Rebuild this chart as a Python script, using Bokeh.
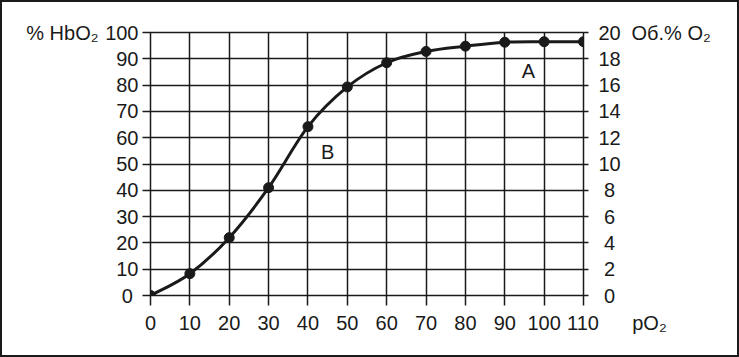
import numpy as np
from bokeh.plotting import figure
from bokeh.models import LinearAxis, Range1d, FixedTicker, Label
from bokeh.embed import file_html
from bokeh.resources import INLINE

# ---- data ----
po2 = [0, 10, 20, 30, 40, 50, 60, 70, 80, 90, 100, 110]
hbo2 = [0, 8.3, 22.0, 41.0, 64.2, 79.3, 88.5, 92.8, 94.8, 96.3, 96.5, 96.5]

x_ticks = [0, 10, 20, 30, 40, 50, 60, 70, 80, 90, 100, 110]
y_left_ticks = [0, 10, 20, 30, 40, 50, 60, 70, 80, 90, 100]
y_right_ticks = [0, 2, 4, 6, 8, 10, 12, 14, 16, 18, 20]
grid_x = [10, 20, 30, 40, 50, 60, 70, 80, 90, 100]
grid_y = [10, 20, 30, 40, 50, 60, 70, 80, 90]

left_title = "% HbO\u2082"
right_title = "Об.% O\u2082"
bottom_title = "pO\u2082"

INK = "#1a1a1a"
FONT = "Liberation Sans"
NB = "\u00a0"

p = figure(width=739, height=357, output_backend="svg", toolbar_location=None,
           x_range=Range1d(0, 110), y_range=Range1d(0, 100),
           min_border_left=148, min_border_right=158, min_border_top=30, min_border_bottom=64,
           x_axis_location=None, y_axis_location=None)
p.styles = {"border": "2px solid #1a1a1a", "box-sizing": "border-box"}
p.outline_line_color = INK
p.outline_line_width = 1.5
p.background_fill_color = "white"
p.border_fill_color = "white"

p.extra_y_ranges = {"vol": Range1d(0, 20), "ttl": Range1d(0, 100)}

def style_axis(ax, tick_out, standoff):
    ax.axis_line_color = None
    ax.major_tick_line_color = INK if tick_out else None
    ax.major_tick_line_width = 1.5
    ax.major_tick_out = tick_out
    ax.major_tick_in = 0
    ax.minor_tick_line_color = None
    ax.major_label_text_font = FONT
    ax.major_label_text_font_size = "20px"
    ax.major_label_text_color = INK
    ax.major_label_standoff = standoff

# bottom axis: pO2 ticks; the axis title sits on the row of the last tick label
xb = LinearAxis(ticker=FixedTicker(ticks=x_ticks))
style_axis(xb, 10, 6)
xb.major_label_overrides = {110: NB * 12 + "110" + NB * 6 + bottom_title}
p.add_layout(xb, "below")

# left axis: % HbO2
yl = LinearAxis(ticker=FixedTicker(ticks=y_left_ticks))
style_axis(yl, 8, 4)
yl.major_label_overrides = {0: "0" + NB}
p.add_layout(yl, "left")

# left title, level with the top of the scale
ylt = LinearAxis(y_range_name="ttl", ticker=FixedTicker(ticks=[100]))
style_axis(ylt, 0, 4)
ylt.major_label_overrides = {100: left_title}
p.add_layout(ylt, "left")

# right axis: volume % O2
yr = LinearAxis(y_range_name="vol", ticker=FixedTicker(ticks=y_right_ticks))
style_axis(yr, 5, 10)
yr.major_label_overrides = {t: (NB + str(t) if t < 10 else str(t)) for t in y_right_ticks}
p.add_layout(yr, "right")

yrt = LinearAxis(y_range_name="ttl", ticker=FixedTicker(ticks=[100]))
style_axis(yrt, 0, 8)
yrt.major_label_overrides = {100: right_title}
p.add_layout(yrt, "right")

p.xgrid.ticker = FixedTicker(ticks=grid_x)
p.ygrid.ticker = FixedTicker(ticks=grid_y)
p.xgrid.grid_line_color = INK
p.ygrid.grid_line_color = INK
p.xgrid.grid_line_width = 1.5
p.ygrid.grid_line_width = 1.5

# ---- smooth curve through the points (Catmull-Rom as cubic Bezier) ----
x = np.array(po2, dtype=float)
y = np.array(hbo2, dtype=float)
n = len(x)
x0, y0, x1, y1, cx0, cy0, cx1, cy1 = [], [], [], [], [], [], [], []
for i in range(n - 1):
    i0 = max(i - 1, 0)
    i3 = min(i + 2, n - 1)
    x0.append(x[i]); y0.append(y[i]); x1.append(x[i + 1]); y1.append(y[i + 1])
    cx0.append(x[i] + (x[i + 1] - x[i0]) / 6.0)
    cy0.append(y[i] + (y[i + 1] - y[i0]) / 6.0)
    cx1.append(x[i + 1] - (x[i3] - x[i]) / 6.0)
    cy1.append(y[i + 1] - (y[i3] - y[i]) / 6.0)
p.bezier(x0=x0, y0=y0, x1=x1, y1=y1, cx0=cx0, cy0=cy0, cx1=cx1, cy1=cy1,
         line_color=INK, line_width=3)
p.scatter(po2, hbo2, size=10, fill_color=INK, line_color=INK)

# region letters inside the plot
for xv, yv, t in [(96.0, 85.5, "A"), (45.0, 54.4, "B")]:
    p.add_layout(Label(x=xv, y=yv, text=t, text_font=FONT, text_font_size="20px",
                       text_color=INK, text_align="center", text_baseline="middle"))

open("out.html", "w").write(file_html(p, INLINE))
